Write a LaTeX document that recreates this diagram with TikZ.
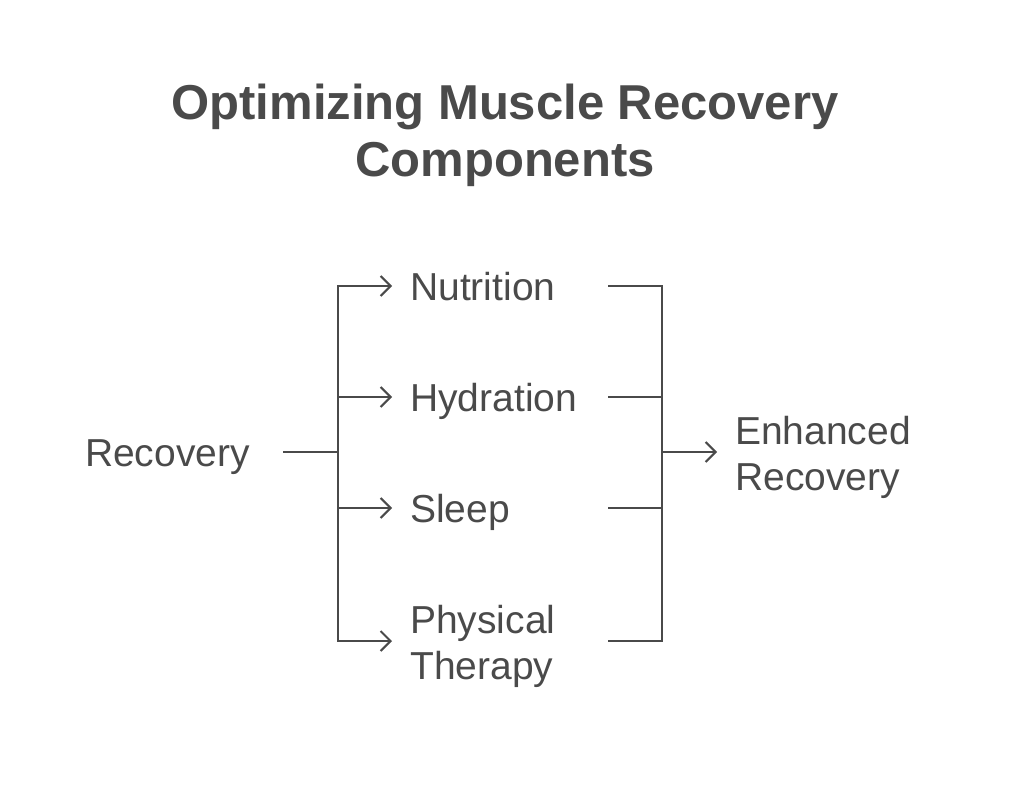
\documentclass[tikz,border=0pt]{standalone}
\usepackage{fontspec}
\setmainfont{Liberation Sans}
\usetikzlibrary{arrows.meta}
\definecolor{ink}{HTML}{4A4A4A}

\tikzset{
  headline/.style={font=\fontsize{49}{57}\selectfont\bfseries, align=center, inner sep=0pt, text=ink},
  label/.style={font=\fontsize{39}{46}\selectfont, inner sep=0pt, text=ink,
    text height=28pt, text depth=0pt},
  item/.style={label, anchor=west, text width=198pt, align=left},
  item2/.style={item, text depth=44pt},
  link/.style={draw=ink, line width=2pt},
  tip/.style={link, -{Straight Barb[length=10pt,width=20pt]}, shorten >=18pt}
}

\begin{document}
\begin{tikzpicture}[x=1pt,y=-1pt]
  \useasboundingbox (0,0) rectangle (1024,786);
  % title
  \node[headline] (title) at (505,135) {Optimizing Muscle Recovery\\Components};
  % left and right labels
  \node[label, anchor=east] (rec) at (250,452) {Recovery};
  \node[item] (nut) at (410,286) {Nutrition};
  \node[item] (hyd) at (410,397) {Hydration};
  \node[item] (slp) at (410,508) {Sleep};
  \node[item2] (phy) at (410,641) {Physical\\Therapy};
  \node[item2, text width=250pt] (enh) at (735,452) {Enhanced\\Recovery};
  % fork points
  \coordinate (split) at (338,452);
  \coordinate (join) at (662,452);
  \draw[link, shorten <=33pt] (rec) -- (split);
  \draw[link, line cap=rect] (split |- nut) -- (split |- phy);
  \draw[link, line cap=rect] (join |- nut) -- (join |- phy);
  \foreach \n in {nut,hyd,slp,phy} {
    \draw[tip] (split |- \n) -- (\n);
    \draw[link] (\n.east) -- (join |- \n);
  }
  \draw[tip] (join) -- (enh);
\end{tikzpicture}
\end{document}
